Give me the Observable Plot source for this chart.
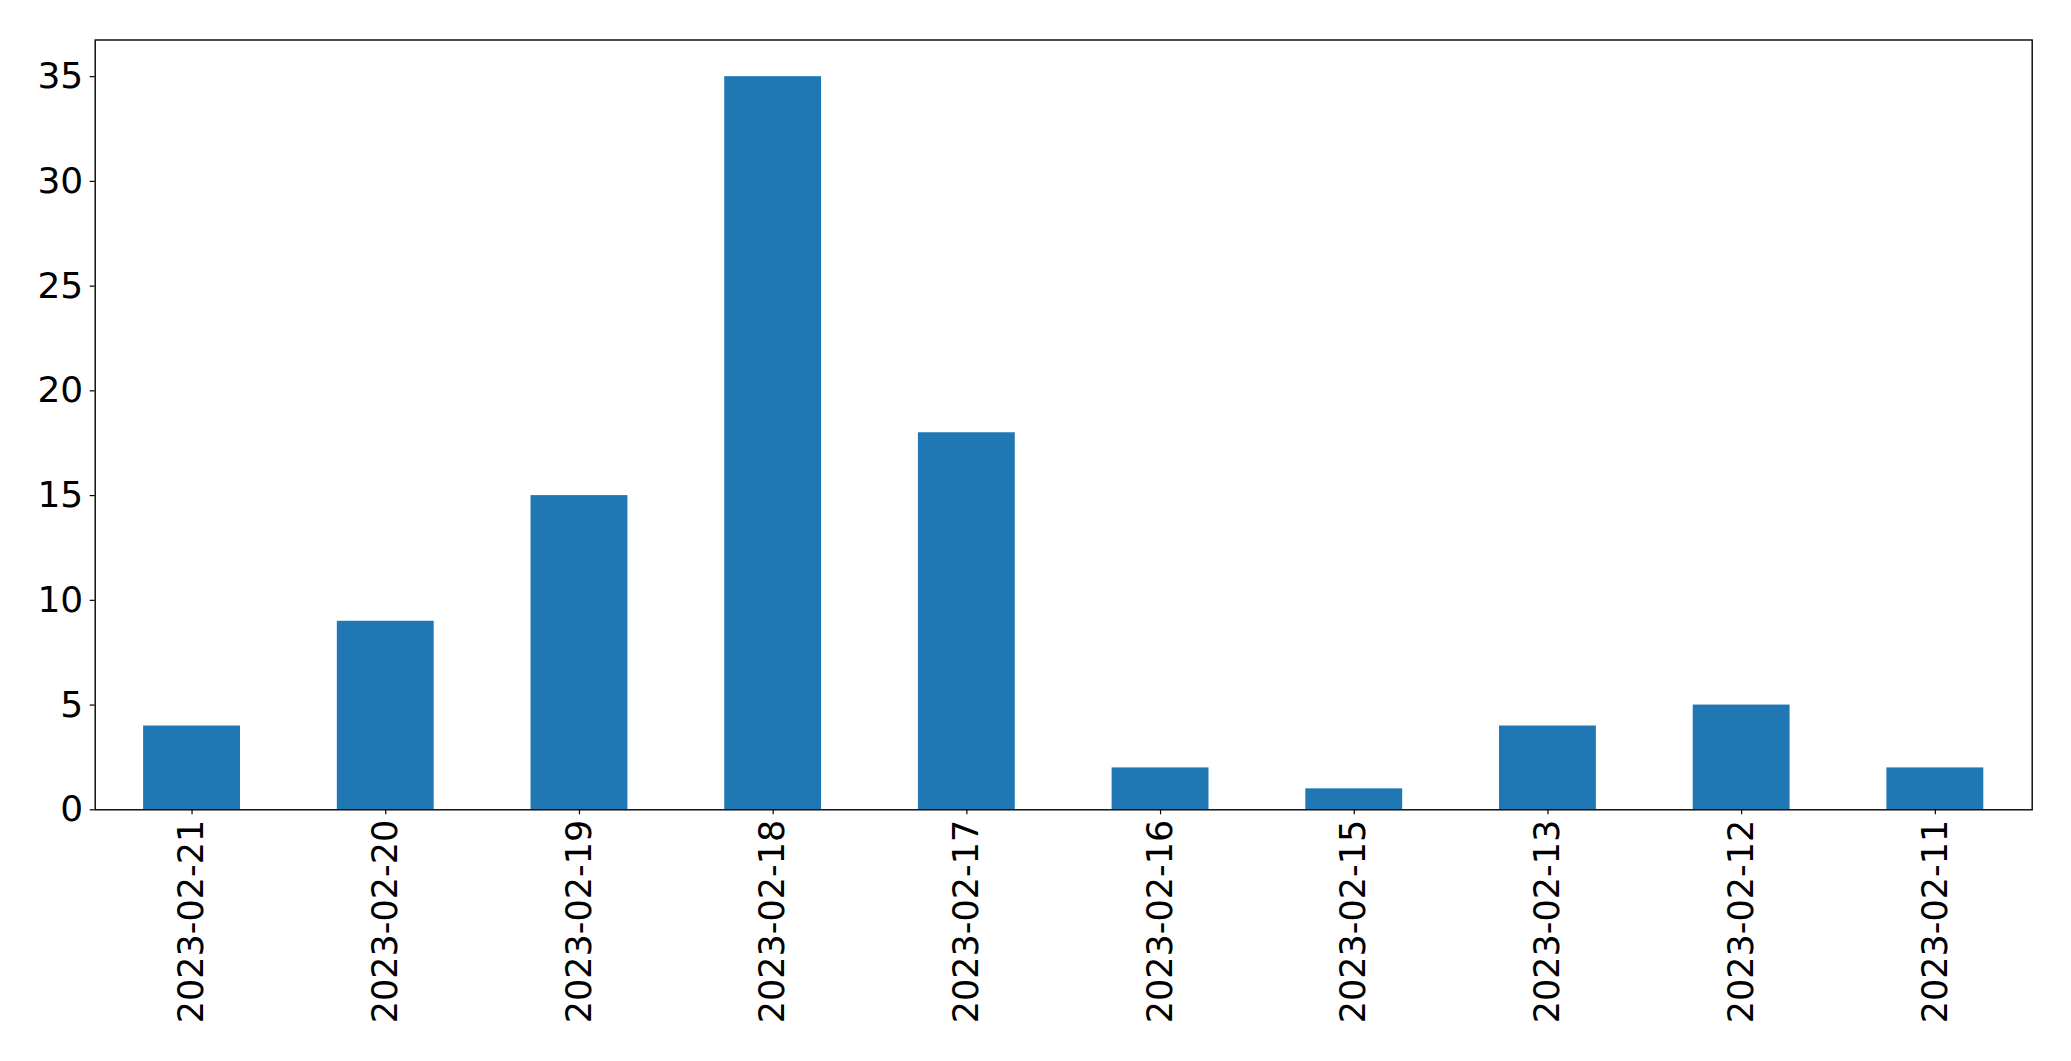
<!DOCTYPE html>
<html>
<head>
<meta charset="utf-8">
<script src="https://cdn.jsdelivr.net/npm/d3@7"></script>
<script src="https://cdn.jsdelivr.net/npm/@observablehq/plot@0.6"></script>
<style>
  html, body { margin: 0; padding: 0; background: #fff; }
</style>
</head>
<body>
<div id="chart"></div>
<script>
const dates = ["2023-02-21", "2023-02-20", "2023-02-19", "2023-02-18", "2023-02-17", "2023-02-16", "2023-02-15", "2023-02-13", "2023-02-12", "2023-02-11"];
const counts = [4, 9, 15, 35, 18, 2, 1, 4, 5, 2];
const yTicks = [0, 5, 10, 15, 20, 25, 30, 35];

const data = dates.map((d, i) => ({date: d, count: counts[i]}));

const chart = Plot.plot({
  width: 2071,
  height: 1061,
  marginLeft: 94.7,
  marginRight: 39.3,
  marginTop: 39.5,
  marginBottom: 251.7,
  style: {fontFamily: "DejaVu Sans", fontSize: "35px", color: "#000", background: "#fff"},
  x: {domain: dates, paddingInner: 0.5, paddingOuter: 0.25, round: false, label: null},
  y: {domain: [0, 36.75], label: null},
  marks: [
    Plot.barY(data, {x: "date", y: "count", fill: "#1f77b4"}),
    Plot.axisX({tickRotate: -90, tickSize: 5, tickPadding: 5, label: null, stroke: "#000", strokeWidth: 1.2}),
    Plot.axisY({ticks: yTicks, tickSize: 5, tickPadding: 7, label: null, stroke: "#000", strokeWidth: 1.2, fontSize: 36, tickFormat: d => String(d)}),
    Plot.frame({stroke: "#000", strokeWidth: 1.4})
  ]
});
document.getElementById("chart").appendChild(chart);
</script>
</body>
</html>
